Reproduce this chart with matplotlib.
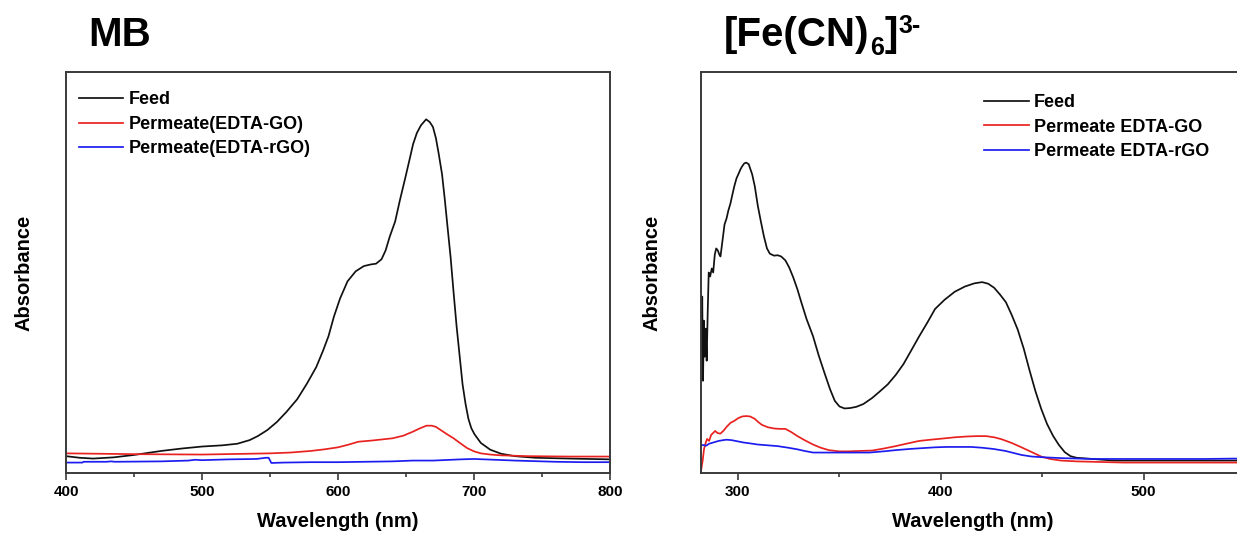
import matplotlib
matplotlib.use("Agg")
import matplotlib.pyplot as plt

plt.rcParams['font.family'] = ['Liberation Sans', 'DejaVu Sans']
plt.rcParams['font.weight'] = 'bold'

# ---------------- data: MB panel ----------------
mb_feed_nm = [400, 410, 420, 435, 450, 470, 485, 500, 515, 526, 535, 541, 548, 555, 562, 570, 577,
              584, 589, 593, 597, 601.5, 607, 613, 619, 624, 628, 632, 635, 638, 642, 645.5, 649.4,
              652.5, 655.2, 658, 661, 664.8, 667.5, 669.8, 672, 674.1, 676.5, 678.5, 680.5, 682.8,
              685, 687.2, 689.5, 691.6, 693.8, 695.9, 698, 700.3, 705, 712, 720, 730, 745, 770, 800]
mb_feed_abs = [0.042, 0.038, 0.036, 0.039, 0.045, 0.055, 0.061, 0.066, 0.069, 0.073, 0.082, 0.092,
               0.107, 0.127, 0.152, 0.184, 0.222, 0.264, 0.305, 0.341, 0.390, 0.435, 0.478, 0.503,
               0.516, 0.520, 0.522, 0.533, 0.555, 0.589, 0.627, 0.680, 0.735, 0.780, 0.820, 0.848,
               0.867, 0.882, 0.875, 0.863, 0.835, 0.795, 0.745, 0.683, 0.615, 0.538, 0.450, 0.366,
               0.290, 0.221, 0.172, 0.135, 0.112, 0.097, 0.075, 0.058, 0.048, 0.042, 0.038, 0.036, 0.034]

mb_go_nm = [400, 450, 500, 550, 565, 580, 590, 600, 608, 615, 625, 640, 648, 655, 660, 665, 669,
            672, 676, 680, 685, 690, 695, 700, 705, 712, 720, 740, 770, 800]
mb_go_abs = [0.049, 0.047, 0.046, 0.049, 0.051, 0.055, 0.059, 0.064, 0.071, 0.078, 0.081, 0.0865,
             0.093, 0.103, 0.111, 0.118, 0.118, 0.115, 0.106, 0.097, 0.0865, 0.074, 0.062, 0.054,
             0.049, 0.046, 0.044, 0.042, 0.041, 0.041]

mb_rgo_nm = [400, 412, 413, 430, 433, 436, 470, 490, 495, 500, 520, 540, 547, 549, 551, 560, 580,
             600, 620, 640, 655, 660, 670, 690, 700, 715, 730, 760, 780, 800]
mb_rgo_abs = [0.026, 0.026, 0.028, 0.028, 0.029, 0.028, 0.029, 0.031, 0.033, 0.032, 0.034, 0.035,
              0.038, 0.038, 0.025, 0.026, 0.027, 0.027, 0.028, 0.029, 0.031, 0.031, 0.031, 0.034,
              0.035, 0.033, 0.031, 0.028, 0.027, 0.027]

# ---------------- data: ferricyanide panel ----------------
fe_feed_nm = [282.3, 282.6, 283.0, 283.4, 283.8, 284.3, 284.8, 285.3, 285.8, 286.5, 287.3, 288.0,
              288.8, 289.5, 290.3, 291.0, 291.6, 292.6, 293.6, 294.6, 295.5, 296.5, 297.5, 298.4,
              299.5, 300.4, 301.5, 302.3, 303.3, 304.3, 305.5, 307.2, 308.5, 310, 311.5, 313, 314.5,
              315.9, 318, 319.8, 321.5, 323.6, 325.5, 327.5, 329.5, 331.4, 334, 337.2, 340, 343,
              345.5, 347.9, 350.2, 352.7, 355.5, 358.5, 362, 366.3, 370, 374, 378, 381.8, 385.5,
              389.5, 393.5, 397.3, 402, 407, 412, 416.7, 420.5, 423.5, 426.4, 429.3, 432.2, 435,
              438, 441, 443.8, 446.7, 449.6, 452.5, 455.4, 458.3, 461.2, 464, 467, 475, 485, 500,
              520, 550]
fe_feed_abs = [0.30, 0.44, 0.23, 0.38, 0.29, 0.36, 0.28, 0.40, 0.50, 0.49, 0.51, 0.50, 0.545, 0.56,
               0.555, 0.545, 0.54, 0.58, 0.62, 0.635, 0.655, 0.672, 0.695, 0.715, 0.735, 0.745,
               0.758, 0.765, 0.772, 0.774, 0.770, 0.745, 0.715, 0.666, 0.627, 0.590, 0.560, 0.547,
               0.542, 0.543, 0.540, 0.530, 0.512, 0.487, 0.458, 0.426, 0.384, 0.341, 0.293, 0.247,
               0.210, 0.180, 0.166, 0.161, 0.162, 0.165, 0.172, 0.187, 0.203, 0.221, 0.245, 0.272,
               0.305, 0.341, 0.375, 0.409, 0.432, 0.452, 0.465, 0.473, 0.476, 0.472, 0.462, 0.445,
               0.426, 0.395, 0.358, 0.310, 0.257, 0.205, 0.160, 0.122, 0.093, 0.070, 0.052, 0.042,
               0.038, 0.035, 0.031, 0.031, 0.031, 0.031]

fe_go_nm = [282, 282.8, 283.5, 284.3, 285, 286, 287, 288, 289, 290, 291.5, 293, 294.6, 296.5, 298.4,
            300.4, 302.3, 304.3, 306.2, 308.5, 310, 312, 315, 318, 321, 323.6, 326.5, 329.5, 333,
            337.2, 341, 345, 350, 354.7, 360, 366.3, 372, 377.9, 384, 389.5, 395, 401.2, 407, 412.8,
            418, 422.5, 426.5, 430.2, 435, 439.9, 445, 449.6, 454, 459.3, 467, 474.8, 490, 520, 550]
fe_go_abs = [0.005, 0.03, 0.06, 0.075, 0.085, 0.08, 0.095, 0.10, 0.105, 0.100, 0.098, 0.105, 0.115,
             0.125, 0.130, 0.137, 0.141, 0.142, 0.141, 0.135, 0.128, 0.120, 0.114, 0.111, 0.110,
             0.110, 0.102, 0.092, 0.082, 0.071, 0.063, 0.057, 0.054, 0.054, 0.055, 0.056, 0.061,
             0.067, 0.074, 0.080, 0.083, 0.086, 0.089, 0.091, 0.092, 0.092, 0.089, 0.084, 0.075,
             0.064, 0.052, 0.041, 0.035, 0.031, 0.029, 0.028, 0.026, 0.026, 0.026]

fe_rgo_nm = [282, 283, 284.5, 286, 288, 290.7, 293, 294.6, 297, 300, 303, 306, 310, 315, 319.8, 325,
             329.5, 333, 337.2, 345, 355, 365, 372, 377.9, 385, 391, 397.3, 403, 408.9, 415, 420.5,
             426, 432, 439.9, 445, 451.5, 460, 474.8, 500, 530, 545, 550]
fe_rgo_abs = [0.068, 0.070, 0.068, 0.073, 0.076, 0.080, 0.082, 0.083, 0.082, 0.079, 0.076, 0.074,
              0.071, 0.069, 0.067, 0.063, 0.059, 0.055, 0.051, 0.051, 0.051, 0.051, 0.054, 0.057,
              0.060, 0.062, 0.064, 0.065, 0.065, 0.065, 0.063, 0.060, 0.055, 0.045, 0.041, 0.039,
              0.037, 0.035, 0.035, 0.035, 0.036, 0.034]

mb_labels = ["Feed", "Permeate(EDTA-GO)", "Permeate(EDTA-rGO)"]
fe_labels = ["Feed", "Permeate EDTA-GO", "Permeate EDTA-rGO"]
mb_xticks = [400, 500, 600, 700, 800]
fe_xticks = [300, 400, 500]

# ---------------- figure ----------------
W, H = 1237, 538
fig = plt.figure(figsize=(W / 100, H / 100), dpi=100)

BLACK, RED, BLUE = '#111111', '#e8221f', '#1c1cf0'
SPINE = '#3a3a3a'
LW = 1.25


def px_axes(x0, x1, ytop, ybot):
    return fig.add_axes([x0 / W, 1 - ybot / H, (x1 - x0) / W, (ybot - ytop) / H])


def style(ax, xlim, xticks, minor_step, label_x):
    ax.set_xlim(*xlim)
    ax.set_ylim(0, 1)
    ax.set_yticks([])
    ax.set_xticks(xticks)
    minors = [t + minor_step for t in xticks if t + minor_step <= xlim[1]]
    ax.set_xticks(minors, minor=True)
    ax.tick_params(axis='x', which='major', direction='out', length=5, width=1.2,
                   color=SPINE, labelsize=11, pad=4)
    ax.tick_params(axis='x', which='minor', direction='out', length=3, width=1.2, color=SPINE)
    for lab in ax.get_xticklabels():
        lab.set_fontweight('bold')
    for sp in ax.spines.values():
        sp.set_linewidth(1.4)
        sp.set_color(SPINE)
    ax.set_xlabel('Wavelength (nm)', fontsize=14.5, fontweight='bold')
    ax.set_ylabel('Absorbance', fontsize=14.5, fontweight='bold')
    ax.xaxis.set_label_coords(0.5, -0.098)
    ax.yaxis.set_label_coords(label_x, 0.5)


LEG = dict(loc='upper left', frameon=False, handlelength=2.45, handletextpad=0.3,
           labelspacing=0.42, borderpad=0, borderaxespad=0, prop={'weight': 'bold', 'size': 13})

# MB panel
ax1 = px_axes(66, 610, 72, 473)
ax1.plot(mb_feed_nm, mb_feed_abs, color=BLACK, lw=LW, label=mb_labels[0])
ax1.plot(mb_go_nm, mb_go_abs, color=RED, lw=LW, label=mb_labels[1])
ax1.plot(mb_rgo_nm, mb_rgo_abs, color=BLUE, lw=LW, label=mb_labels[2])
style(ax1, (400, 800), mb_xticks, 50, -0.060)
ax1.legend(bbox_to_anchor=(0.024, 0.952), **LEG)

# Ferricyanide panel (right side cut by image edge)
ax2 = px_axes(701, 1245, 72, 473)
ax2.plot(fe_feed_nm, fe_feed_abs, color=BLACK, lw=LW, label=fe_labels[0])
ax2.plot(fe_go_nm, fe_go_abs, color=RED, lw=LW, label=fe_labels[1])
ax2.plot(fe_rgo_nm, fe_rgo_abs, color=BLUE, lw=LW, label=fe_labels[2])
style(ax2, (282, 550), fe_xticks, 50, -0.072)
ax2.spines['right'].set_visible(False)
ax2.legend(bbox_to_anchor=(0.521, 0.945), **LEG)

# Titles
renderer = fig.canvas.get_renderer()
fig.text(88 / W, 1 - 46 / H, 'MB', fontsize=29, fontweight='bold', ha='left', va='baseline')


def chain(parts, x0, base):
    x = x0
    for s, size, dy, gap in parts:
        t = fig.text((x + gap) / W, 1 - (base + dy) / H, s, fontsize=size, fontweight='bold',
                     ha='left', va='baseline')
        bb = t.get_window_extent(renderer)
        x = bb.x1


chain([('[Fe(CN)', 29, 0, 0), ('6', 18, 9, 1), (']', 29, 0, 0), ('3-', 18, -13, 1)], 724, 46)

fig.savefig('out.png', dpi=100)
